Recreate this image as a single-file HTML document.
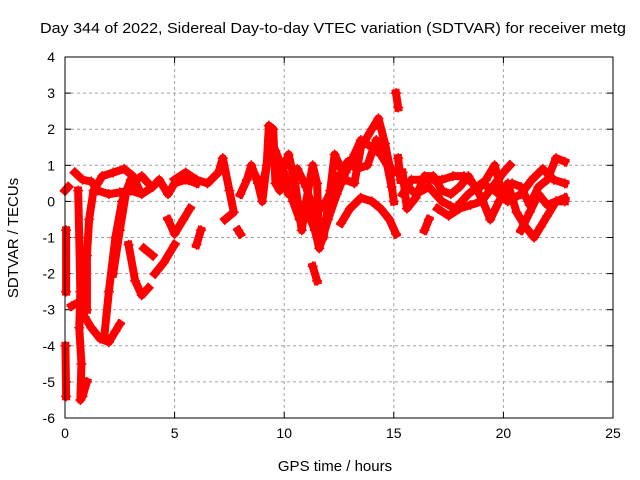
<!DOCTYPE html>
<html><head><meta charset="utf-8"><style>
body{margin:0;background:#fff}
svg{display:block;font-family:"Liberation Sans",sans-serif}
</style></head><body>
<svg id="chart" width="640" height="480">
<text x="333" y="33" font-size="15" text-anchor="middle" textLength="586" lengthAdjust="spacingAndGlyphs">Day 344 of 2022, Sidereal Day-to-day VTEC variation (SDTVAR) for receiver metg</text>
<text x="335" y="471" font-size="15" text-anchor="middle">GPS time / hours</text>
<text transform="translate(18,238) rotate(-90)" font-size="15" text-anchor="middle">SDTVAR / TECUs</text>
<g id="grid"></g><g id="ticks"></g><g id="series"></g>
<rect x="65" y="57" width="548" height="361" fill="none" stroke="#000"/>
</svg>
<script>
const xTicks=[0,5,10,15,20,25];
const yTicks=[4,3,2,1,0,-1,-2,-3,-4,-5,-6];
const t1=[[0,0.3],[0.15,0.4]];
const t2=[[0.05,-0.8],[0.05,-2.5]];
const t3=[[0.02,-4],[0.05,-5.4]];
const t4=[[0.45,0.8],[0.8,0.6],[1.2,0.55],[1.5,0.3],[2,0.2],[2.5,0.25],[3,0.3],[3.5,0.2],[4,0.4],[4.3,0.6],[4.7,0.2],[5,0.5],[5.5,0.6],[6,0.5]];
const t5=[[0.6,0.3],[0.65,-1],[0.7,-2.5],[0.65,-3.5],[0.75,-4.5],[0.7,-5.5],[0.8,-5.4],[1.0,-5.0]];
const t6=[[0.3,-2.9],[0.6,-2.8],[0.9,-3.2],[1.2,-3.5],[1.6,-3.8],[2.0,-3.9],[2.3,-3.6],[2.5,-3.4]];
const t7=[[1.0,-3],[1.0,-1.5],[1.1,-0.5],[1.3,0.3],[1.7,0.7],[2.2,0.8],[2.7,0.9],[3.1,0.7],[3.4,0.3]];
const t8=[[1.8,-3.7],[2.0,-2.5],[2.3,-1],[2.6,0],[3.0,0.5],[3.5,0.7],[3.8,0.5]];
const t9=[[2.2,-2],[2.5,-0.8],[2.8,0.3],[3.0,0.6]];
const t10=[[2.9,-1.2],[3.2,-2.2],[3.5,-2.6],[3.8,-2.4]];
const t11=[[3.6,-1.3],[4.0,-1.5]];
const t12=[[4.1,-2.0],[4.5,-1.7],[5,-1.2]];
const t13=[[4.7,-0.5],[5,-0.9],[5.4,-0.5],[5.7,-0.2]];
const t14=[[6,-1.2],[6.2,-0.8]];
const t15=[[5,0.6],[5.5,0.8],[6,0.6],[6.5,0.5],[7,0.8],[7.2,1.2],[7.5,0.3],[7.7,-0.3],[7.3,-0.5]];
const t16=[[7.9,-0.8],[8.0,-0.9]];
const t17=[[8,0.2],[8.3,0.6],[8.5,1.0],[8.8,0.5],[9,0],[9.2,1.0],[9.3,2.1],[9.5,2.0],[9.6,0.5],[9.8,0.3],[10,1.0],[10.2,1.3],[10.5,0.5],[10.8,-0.8],[11,0],[11.3,1.0],[11.5,0.5],[11.6,-1.2],[11.8,-1.0],[12.1,0.3],[12.3,1.3],[12.6,0.9],[12.8,0.6],[13.2,0.5],[13.5,1.5],[14,2.0],[14.3,2.3],[14.6,1.6],[14.8,1.0],[15,0.8]];
const t18=[[9.6,1.4],[10,0.8],[10.4,0],[10.7,-0.5],[11.0,-0.2],[11.4,-0.8],[11.6,-1.3],[12.0,-0.5],[12.4,0.2],[12.8,0.8],[13.2,1.3],[13.5,1.7],[14.0,1.5],[14.4,1.3],[14.8,0.9],[15.0,0]];
const t19=[[12.6,-0.6],[13,-0.2],[13.5,0.1],[14,0.0],[14.4,-0.2],[14.8,-0.5],[15.1,-0.9]];
const t20=[[11.3,-1.8],[11.5,-2.2]];
const t21=[[15.1,3.0],[15.2,2.6]];
const t22=[[15.4,0.8],[15.6,-0.2],[16,0.1],[16.4,0.7],[16.8,0.7],[17.2,0.3],[17.6,0.2],[18,0.4],[18.4,0.7],[18.8,0.3],[19.2,0.6],[19.6,1.0],[20,0.1],[20.4,0.5],[20.8,0.4],[21.2,-0.1],[21.6,0.4],[22,0.6],[22.4,1.2],[22.8,1.1]];
const t23=[[15.4,0.2],[15.8,0.6],[16.3,0.6],[16.8,0.6],[17.2,0.6],[17.7,0.7],[18.2,0.7],[18.6,0.5],[19,0.1],[19.4,-0.5],[19.8,0],[20.2,0.5],[20.6,-0.3],[21,-0.7],[21.4,-1.0],[21.7,-0.7],[22,-0.4],[22.4,0],[22.8,0.1]];
const t24=[[16.4,-0.8],[16.6,-0.5]];
const t25=[[17,-0.2],[17.5,-0.4],[18,-0.2],[18.5,-0.1],[19,0.0],[19.5,0.4],[20,0.8],[20.3,1.0]];
const t26=[[20.8,-0.8],[21.2,-0.3],[21.6,0.2],[22,-0.1],[22.4,0.0],[22.8,0.0]];
const t27=[[8.6,0.8],[9.0,0.4],[9.4,1.6],[9.8,0.8],[10.2,0.2],[10.6,0.9],[11.0,0.4],[11.4,-0.4],[11.9,0.0],[12.4,0.6],[12.9,1.1],[13.3,0.9],[13.8,1.0],[14.2,1.7],[14.6,1.3],[14.9,0.4]];
const t28=[[15.5,0.5],[16.0,0.2],[16.6,0.4],[17.2,0.0],[17.8,-0.2],[18.4,0.2],[19.0,0.5],[19.6,0.3],[20.2,0.0],[20.8,0.2],[21.3,0.6],[21.8,0.9],[22.3,0.6],[22.8,0.5]];
const t29=[[15.2,1.2],[15.3,0.6]];
const tracks=[t1,t2,t3,t4,t5,t6,t7,t8,t9,t10,t11,t12,t13,t14,t15,t16,t17,t18,t19,t20,t21,t22,t23,t24,t25,t26,t27,t28,t29];

const NS="http://www.w3.org/2000/svg";
const X0=65,X1=613,Y0=418,Y1=57;
function sx(v){return X0+(v-0)/(25-0)*(X1-X0);}
function sy(v){return Y0-(v+6)/(4+6)*(Y0-Y1);}
function mk(tag,attrs,parent){const e=document.createElementNS(NS,tag);for(const k in attrs)e.setAttribute(k,attrs[k]);parent.appendChild(e);return e;}
const grid=document.getElementById('grid'),ticks=document.getElementById('ticks'),series=document.getElementById('series');
xTicks.forEach(t=>{
 const x=sx(t);
 if(t>0&&t<25){const g=mk('line',{x1:x,x2:x,y1:Y1,y2:Y0,stroke:'#a0a0a0','stroke-dasharray':'3,3'},grid);
 
 }
 mk('line',{x1:x,x2:x,y1:Y0,y2:Y0-6,stroke:'#000'},ticks);
 mk('line',{x1:x,x2:x,y1:Y1,y2:Y1+6,stroke:'#000'},ticks);
 const l=mk('text',{x:x,y:Y0+20,'font-size':14,'text-anchor':'middle'},ticks);l.textContent=t;
 
 
});
yTicks.forEach(t=>{
 const y=sy(t);
 if(t>-6&&t<4){const g=mk('line',{x1:X0,x2:X1,y1:y,y2:y,stroke:'#a0a0a0','stroke-dasharray':'3,3'},grid);
 
 }
 mk('line',{x1:X0,x2:X0+6,y1:y,y2:y,stroke:'#000'},ticks);
 mk('line',{x1:X1,x2:X1-6,y1:y,y2:y,stroke:'#000'},ticks);
 const l=mk('text',{x:X0-10,y:y+5,'font-size':14,'text-anchor':'end'},ticks);l.textContent=t;
 
 
});
tracks.forEach(tr=>{
 const pts=tr.map(p=>sx(p[0])+','+sy(p[1])).join(' ');
 const pl=mk('polyline',{points:pts,fill:'none',stroke:'#ff0000','stroke-width':8,'stroke-linejoin':'round','stroke-linecap':'square'},series);
 
 
 tr.forEach(p=>{
  const x=sx(p[0]),y=sy(p[1]);
  const m=mk('path',{d:`M${x-5},${y}H${x+5}M${x},${y-5}V${y+5}`,stroke:'#ff0000','stroke-width':1.5},series);
  
  
 });
});
</script>
</body></html>
